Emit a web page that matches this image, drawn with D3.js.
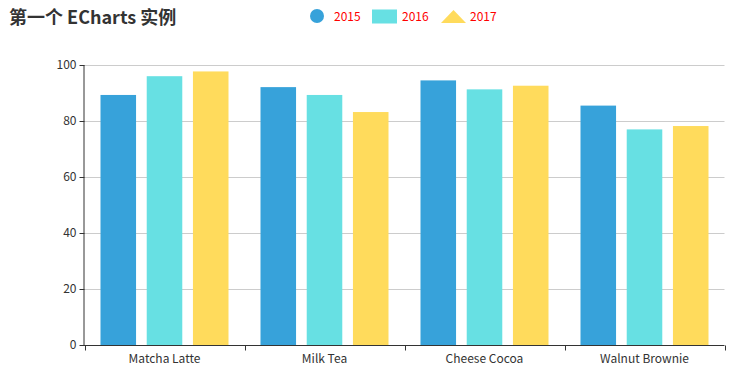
<!DOCTYPE html>
<html>
<head>
<meta charset="utf-8">
<script src="https://cdn.jsdelivr.net/npm/d3@7"></script>
<style>
  body { margin: 0; background: #fff; }
  svg text { font-family: "Microsoft YaHei", "Noto Sans CJK SC", "Noto Sans", sans-serif; }
</style>
</head>
<body>
<svg id="chart"></svg>
<script>
var categories = ["Matcha Latte", "Milk Tea", "Cheese Cocoa", "Walnut Brownie"];
var seriesNames = ["2015", "2016", "2017"];
var values2015 = [89.3, 92.1, 94.5, 85.5];
var values2016 = [96.0, 89.3, 91.3, 77.0];
var values2017 = [97.7, 83.2, 92.6, 78.2];
var yTicks = [0, 20, 40, 60, 80, 100];
var colors = ["#37a2da", "#67e0e3", "#ffdb5c"];

var W = 755, H = 375;
var m = { left: 84.5, right: 724.5, top: 65, bottom: 345 };

var svg = d3.select("#chart").attr("width", W).attr("height", H);

var seriesData = [values2015, values2016, values2017];

var x0 = d3.scaleBand().domain(categories).range([m.left, m.right]).paddingInner(0).paddingOuter(0);
// echarts style: 20% category gap, 30% bar gap
var inner = x0.bandwidth() * 0.8;
var barW = inner / (3 + 2 * 0.3);
var gap = barW * 0.3;

var y = d3.scaleLinear().domain([0, 100]).range([m.bottom, m.top]);

// grid lines
svg.append("g").selectAll("line").data(yTicks.filter(function(d) { return d > 0; }))
  .enter().append("line")
  .attr("x1", m.left).attr("x2", m.right)
  .attr("y1", function(d) { return Math.round(y(d)) + 0.5; })
  .attr("y2", function(d) { return Math.round(y(d)) + 0.5; })
  .attr("stroke", "#ccc");

// bars
seriesData.forEach(function(vals, si) {
  svg.append("g").selectAll("rect").data(vals).enter().append("rect")
    .attr("x", function(d, i) { return x0(categories[i]) + x0.bandwidth() * 0.1 + si * (barW + gap); })
    .attr("width", barW)
    .attr("y", function(d) { return y(d); })
    .attr("height", function(d) { return y(0) - y(d); })
    .attr("fill", colors[si]);
});

// y axis
var yAxis = d3.axisLeft(y).tickValues(yTicks).tickSize(5).tickPadding(3);
var gy = svg.append("g").attr("transform", "translate(" + m.left + ",0)").call(yAxis);
gy.select(".domain").attr("stroke", "#333").attr("d", "M-0.5," + m.top + "V" + (m.bottom + 0.5));
gy.selectAll(".tick line").attr("stroke", "#333");
gy.selectAll(".tick text").attr("fill", "#333").style("font-size", "12px");

// x axis
var gx = svg.append("g").attr("transform", "translate(0," + (m.bottom + 0.5) + ")");
gx.append("line").attr("x1", m.left - 0.5).attr("x2", m.right).attr("stroke", "#333");
var bounds = categories.map(function(c) { return x0(c); }).concat([m.right]);
gx.selectAll(".tk").data(bounds).enter().append("line")
  .attr("x1", function(d) { return Math.round(d) + 0.5; })
  .attr("x2", function(d) { return Math.round(d) + 0.5; })
  .attr("y1", 0).attr("y2", 5).attr("stroke", "#333");
gx.selectAll("text").data(categories).enter().append("text")
  .attr("x", function(d) { return x0(d) + x0.bandwidth() / 2; })
  .attr("y", 17)
  .attr("text-anchor", "middle")
  .attr("fill", "#333")
  .style("font-size", "12px")
  .text(function(d) { return d; });

// title
svg.append("text").attr("x", 9).attr("y", 24)
  .attr("fill", "#333").style("font-size", "18px").style("font-weight", "bold")
  .text("第一个 ECharts 实例");

// legend
var leg = svg.append("g");
var legX = [310, 372, 441];
seriesNames.forEach(function(name, i) {
  var g = leg.append("g").attr("transform", "translate(" + legX[i] + ",9)");
  if (i === 0) {
    g.append("circle").attr("cx", 7).attr("cy", 7).attr("r", 7).attr("fill", colors[i]);
    g.append("text").attr("x", 24).attr("y", 11.5).attr("fill", "red").style("font-size", "12px").text(name);
  } else if (i === 1) {
    g.append("rect").attr("x", 0).attr("y", 0.5).attr("width", 25).attr("height", 14).attr("fill", colors[i]);
    g.append("text").attr("x", 30).attr("y", 11.5).attr("fill", "red").style("font-size", "12px").text(name);
  } else {
    g.append("path").attr("d", "M0,14L12.5,1L25,14Z").attr("fill", colors[i]);
    g.append("text").attr("x", 29).attr("y", 11.5).attr("fill", "red").style("font-size", "12px").text(name);
  }
});
</script>
</body>
</html>
